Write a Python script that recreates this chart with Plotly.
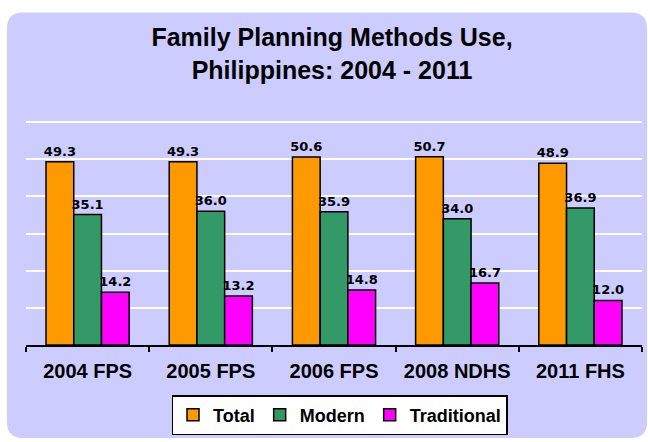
import plotly.graph_objects as go

categories = ["2004 FPS", "2005 FPS", "2006 FPS", "2008 NDHS", "2011 FHS"]
total = [49.3, 49.3, 50.6, 50.7, 48.9]
modern = [35.1, 36.0, 35.9, 34.0, 36.9]
traditional = [14.2, 13.2, 14.8, 16.7, 12.0]

series = [("Total", total, "#FF9900"),
          ("Modern", modern, "#339966"),
          ("Traditional", traditional, "#FF00FF")]

W, H = 648, 442
L, R, T, B = 26, 6, 121, 97
pw, ph = W - L - R, H - T - B

fig = go.Figure()
for name, vals, col in series:
    fig.add_trace(go.Bar(
        name=name, x=categories, y=vals,
        marker=dict(color=col, line=dict(color="black", width=1.5)),
        text=[f"{v:.1f}" for v in vals], textposition="outside",
        constraintext="none",
        textfont=dict(family="DejaVu Sans", size=13, color="black", weight="bold"),
        cliponaxis=False,
    ))

# rounded lavender background panel (pixel -> paper)
def px2x(p):
    return (p - L) / pw
def py2y(p):
    return (H - B - p) / ph

x0, x1, y0, y1, r = 7, 647, 12.5, 438, 16
path = (f"M {px2x(x0 + r)},{py2y(y0)} L {px2x(x1 - r)},{py2y(y0)} "
        f"Q {px2x(x1)},{py2y(y0)} {px2x(x1)},{py2y(y0 + r)} "
        f"L {px2x(x1)},{py2y(y1 - r)} Q {px2x(x1)},{py2y(y1)} {px2x(x1 - r)},{py2y(y1)} "
        f"L {px2x(x0 + r)},{py2y(y1)} Q {px2x(x0)},{py2y(y1)} {px2x(x0)},{py2y(y1 - r)} "
        f"L {px2x(x0)},{py2y(y0 + r)} Q {px2x(x0)},{py2y(y0)} {px2x(x0 + r)},{py2y(y0)} Z")

fig.update_layout(
    width=W, height=H,
    margin=dict(l=L, r=R, t=T, b=B, autoexpand=False),
    paper_bgcolor="white", plot_bgcolor="rgba(0,0,0,0)",
    barmode="group", bargap=0.325, bargroupgap=0,
    shapes=[dict(type="path", path=path, xref="paper", yref="paper",
                 fillcolor="#CCCCFF", line=dict(width=0), layer="below")],
    title=dict(text="Family Planning Methods Use,<br>Philippines: 2004 - 2011",
               font=dict(family="Liberation Sans", size=25, color="black", weight="bold"),
               x=332 / W, xanchor="center", xref="container",
               y=1 - 46 / H, yanchor="top", yref="container"),
    showlegend=True,
    legend=dict(orientation="h", xref="container", yref="container",
                x=339.5 / W, xanchor="center", y=1 - 395 / H, yanchor="top",
                bgcolor="white", bordercolor="black", borderwidth=1.5,
                font=dict(family="Liberation Sans", size=18, color="black", weight="bold"),
                itemwidth=30, traceorder="normal"),
    xaxis=dict(showline=True, linecolor="black", linewidth=2,
               ticks="outside", tickson="boundaries", ticklen=5, tickwidth=1.5,
               tickcolor="black", showgrid=False, automargin=False,
               tickfont=dict(family="Liberation Sans", size=20, color="black", weight="bold"),
               ticklabelstandoff=7),
    yaxis=dict(range=[0, 60.3], tick0=0, dtick=10, showgrid=True, gridcolor="white",
               gridwidth=1.5, showticklabels=False, zeroline=False, showline=False,
               ticks="", automargin=False),
)

fig.write_html("out.html", config={"displayModeBar": False},
               post_script="document.body.style.margin='0';")
